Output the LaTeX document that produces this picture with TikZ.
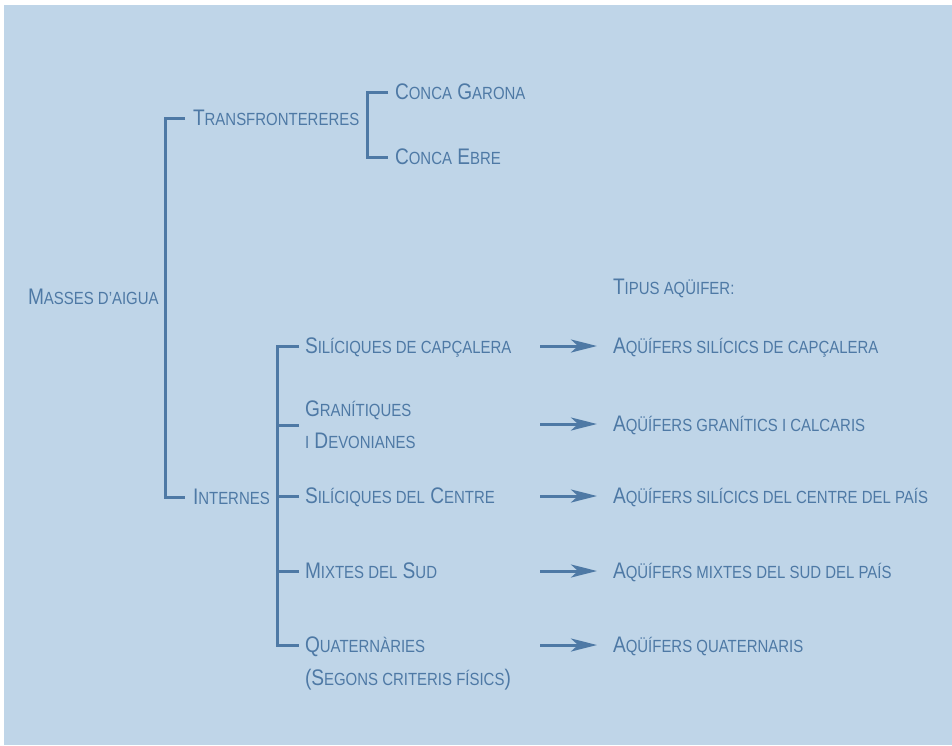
\documentclass[tikz,border=0pt]{standalone}
\usepackage{fontspec}
\setmainfont{Liberation Sans}[FakeStretch=0.85]
\usetikzlibrary{arrows.meta,calc}
\definecolor{bgc}{HTML}{BFD5E8}
\definecolor{ink}{HTML}{4E79A5}
\newcommand\sk[1]{{\fontsize{17.6}{20}\selectfont #1}}
\tikzset{
  lbl/.style={anchor=west, inner sep=0pt, outer sep=0pt, text height=14pt, text depth=0pt,
    text=ink, font=\fontsize{22.5}{25}\selectfont},
  br/.style={draw=ink, line width=3pt, line join=miter},
  arr/.style={draw=ink, line width=3pt, -{Stealth[length=26pt,width=13pt,inset=7pt]}}
}
\begin{document}
\begin{tikzpicture}[x=1pt,y=-1pt]
\useasboundingbox (0,0) rectangle (952,745);
\fill[bgc] (4,5) rectangle (952,745);
% left column
\node[lbl] (mas) at (28,297) {M\sk{ASSES D’AIGUA}};
\node[lbl] (tra) at (193,118) {T\sk{RANSFRONTERERES}};
\node[lbl] (int) at (193,497) {I\sk{NTERNES}};
\node[lbl] (gar) at (395,92) {C\sk{ONCA} G\sk{ARONA}};
\node[lbl] (ebr) at (395,157) {C\sk{ONCA} E\sk{BRE}};
% internes
\node[lbl] (sc) at (305,346) {S\sk{ILÍCIQUES DE CAPÇALERA}};
\node[lbl] (gr1) at (305,409) {G\sk{RANÍTIQUES}};
\node[lbl] (gr2) at (305,441) {\sk{I} D\sk{EVONIANES}};
\node[lbl] (sce) at (305,496) {S\sk{ILÍCIQUES DEL} C\sk{ENTRE}};
\node[lbl] (mix) at (305,571) {M\sk{IXTES DEL} S\sk{UD}};
\node[lbl] (qu1) at (305,645) {Q\sk{UATERNÀRIES}};
\node[lbl] (qu2) at (305,678) {(S\sk{EGONS CRITERIS FÍSICS})};
% aquifers
\node[lbl] (tip) at (613,287) {T\sk{IPUS AQÜIFER:}};
\node[lbl] (a1) at (613,346) {A\sk{QÜÍFERS SILÍCICS DE CAPÇALERA}};
\node[lbl] (a2) at (613,424) {A\sk{QÜÍFERS GRANÍTICS I CALCARIS}};
\node[lbl] (a3) at (613,496) {A\sk{QÜÍFERS SILÍCICS DEL CENTRE DEL PAÍS}};
\node[lbl] (a4) at (613,571) {A\sk{QÜÍFERS MIXTES DEL SUD DEL PAÍS}};
\node[lbl] (a5) at (613,645) {A\sk{QÜÍFERS QUATERNARIS}};
% brackets
\draw[br] ([xshift=-8pt]tra.west) -- ++(-20,0) |- ([xshift=-8pt]int.west);
\draw[br] ([xshift=-7pt]gar.west) -- ++(-21,0) |- ([xshift=-7pt]ebr.west);
\draw[br] ([xshift=-6pt]sc.west) -- ++(-22,0) |- ([xshift=-6pt]qu1.west);
\draw[br] ($(gr1.west)!.5!(gr2.west)+(-6,0)$) -- ++(-22,0);
\draw[br] ([xshift=-6pt]sce.west) -- ++(-22,0);
\draw[br] ([xshift=-6pt]mix.west) -- ++(-22,0);
% arrows
\draw[arr] ([xshift=-73pt]a1.west) -- ([xshift=-16pt]a1.west);
\draw[arr] ([xshift=-73pt]a2.west) -- ([xshift=-16pt]a2.west);
\draw[arr] ([xshift=-73pt]a3.west) -- ([xshift=-16pt]a3.west);
\draw[arr] ([xshift=-73pt]a4.west) -- ([xshift=-16pt]a4.west);
\draw[arr] ([xshift=-73pt]a5.west) -- ([xshift=-16pt]a5.west);
\end{tikzpicture}
\end{document}
